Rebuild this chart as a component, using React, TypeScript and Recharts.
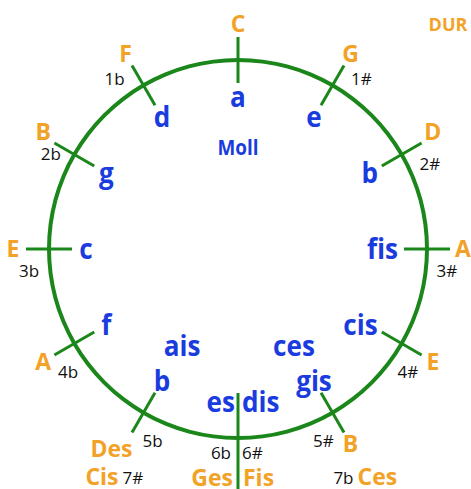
import React from "react";
import { PieChart, Pie } from "recharts";

const majorKeys = ["C", "G", "D", "A", "E", "B", "Fis", "Des", "A", "E", "B", "F"];
const minorKeys = ["a", "e", "b", "fis", "cis", "gis", "dis", "b", "f", "c", "g", "d"];
const signatures = ["", "1#", "2#", "3#", "4#", "5#", "6#", "5b", "4b", "3b", "2b", "1b"];
const enharmonicMajor = ["", "", "", "", "", "Ces", "Ges", "Cis", "", "", "", ""];
const enharmonicMinor = ["", "", "", "", "", "ces", "es", "ais", "", "", "", ""];
const enharmonicSignatures = ["", "", "", "", "", "7b", "6b", "7#", "", "", "", ""];
const modeLabels = ["DUR", "Moll"];

const keyData = majorKeys.map((k, i) => ({
  name: k,
  minor: minorKeys[i],
  sig: signatures[i],
  value: 1,
}));
const ringData = [{ name: "ring", value: 1 }];

const W = 471;
const H = 489;
const CX = 238;
const CY = 249;
const R = 189;
const GREEN = "#1B871B";
const ORANGE = "#F2A227";
const BLUE = "#1A3CDE";
const BLACK = "#111111";
const FONT = "'Open Sans', 'Noto Sans', sans-serif";
const RAD = Math.PI / 180;

const pt = (cx: number, cy: number, r: number, a: number) => ({
  x: cx + r * Math.cos(a * RAD),
  y: cy - r * Math.sin(a * RAD),
});

type TProps = {
  x: number;
  y: number;
  text: string;
  size: number;
  color: string;
  bold?: boolean;
  sx?: number;
  anchor?: "start" | "middle" | "end";
};

const T = ({ x, y, text, size, color, bold = true, sx = 1, anchor = "middle" }: TProps) => (
  <text
    transform={`translate(${x},${y}) scale(${sx},1)`}
    textAnchor={anchor}
    fontSize={size}
    fontWeight={bold ? 700 : 400}
    fill={color}
    fontFamily={FONT}
  >
    {text}
  </text>
);

const MAJ = 23;
const MIN = 29;
const MIN_SX = 0.9;
const SIG = 17;

const renderKey = (props: any) => {
  const index: number = props.index;
  const cx: number = typeof props.cx === "number" ? props.cx : CX;
  const cy: number = typeof props.cy === "number" ? props.cy : CY;
  const m: number = props.midAngle;
  const r = R;
  const bottom = index === 6;
  const t1 = pt(cx, cy, r - (bottom ? 45 : 23), m);
  const t2 = pt(cx, cy, r + (bottom ? 70 : 23), m);
  const els: React.ReactNode[] = [];
  els.push(
    <line key="tick" x1={t1.x} y1={t1.y} x2={t2.x} y2={t2.y} stroke={GREEN} strokeWidth={3} />
  );
  if (bottom) {
    const mi = pt(cx, cy, 153, m);
    els.push(<T key="emi" x={cx - 3} y={mi.y + 10} text={enharmonicMinor[index]} size={MIN} color={BLUE} sx={MIN_SX} anchor="end" />);
    els.push(<T key="mi" x={cx + 4} y={mi.y + 10} text={minorKeys[index]} size={MIN} color={BLUE} sx={MIN_SX} anchor="start" />);
    els.push(<T key="esg" x={cx - 7} y={cy + 210} text={enharmonicSignatures[index]} size={SIG} color={BLACK} bold={false} anchor="end" />);
    els.push(<T key="sg" x={cx + 4} y={cy + 210} text={signatures[index]} size={SIG} color={BLACK} bold={false} anchor="start" />);
    els.push(<T key="ema" x={cx - 5} y={cy + 237} text={enharmonicMajor[index]} size={MAJ} color={ORANGE} anchor="end" />);
    els.push(<T key="ma" x={cx + 5} y={cy + 237} text={majorKeys[index]} size={MAJ} color={ORANGE} anchor="start" />);
    return <g key={`k${index}`}>{els}</g>;
  }
  const ma = pt(cx, cy, r + 36, m);
  const maX = index === 7 ? ma.x - 14 : ma.x;
  const maY = index === 7 ? ma.y + 5 : index === 2 || index === 10 ? ma.y - 5 : ma.y;
  els.push(<T key="ma" x={maX} y={maY + 8} text={majorKeys[index]} size={MAJ} color={ORANGE} />);
  const mi = pt(cx, cy, r - 37, m);
  if (index === 3 || index === 4) {
    els.push(<T key="mi" x={mi.x + 8} y={mi.y + 10} text={minorKeys[index]} size={MIN} color={BLUE} sx={MIN_SX} anchor="end" />);
  } else {
    els.push(<T key="mi" x={mi.x} y={mi.y + 10} text={minorKeys[index]} size={MIN} color={BLUE} sx={MIN_SX} />);
  }
  if (signatures[index]) {
    const off = index < 6 ? -6 : index === 10 ? 3 : 6;
    const sg = pt(cx, cy, r + 21, m + off);
    els.push(<T key="sg" x={sg.x} y={sg.y + 6} text={signatures[index]} size={SIG} color={BLACK} bold={false} />);
  }
  if (enharmonicMinor[index]) {
    const em = pt(cx, cy, 112, m);
    els.push(<T key="emi" x={em.x} y={em.y + 10} text={enharmonicMinor[index]} size={MIN} color={BLUE} sx={MIN_SX} />);
  }
  if (enharmonicMajor[index]) {
    if (index === 7) {
      els.push(<T key="ema" x={ma.x - 7} y={ma.y + 41} text={enharmonicMajor[index]} size={MAJ} color={ORANGE} anchor="end" />);
      els.push(<T key="esg" x={ma.x - 3} y={ma.y + 40} text={enharmonicSignatures[index]} size={SIG} color={BLACK} bold={false} anchor="start" />);
    } else {
      els.push(<T key="esg" x={ma.x + 3} y={ma.y + 40} text={enharmonicSignatures[index]} size={SIG} color={BLACK} bold={false} anchor="end" />);
      els.push(<T key="ema" x={ma.x + 7} y={ma.y + 41} text={enharmonicMajor[index]} size={MAJ} color={ORANGE} anchor="start" />);
    }
  }
  return <g key={`k${index}`}>{els}</g>;
};

export default function App() {
  return (
    <div style={{ position: "absolute", left: 0, top: 0, width: W, height: H, background: "#fff" }}>
      <PieChart width={W} height={H} margin={{ top: 0, right: 0, bottom: 0, left: 0 }}>
        <Pie
          data={ringData}
          dataKey="value"
          cx={CX}
          cy={CY}
          innerRadius={R - 2}
          outerRadius={R + 2}
          startAngle={90}
          endAngle={-270}
          fill={GREEN}
          stroke="none"
          isAnimationActive={false}
        />
        <Pie
          data={keyData}
          dataKey="value"
          cx={CX}
          cy={CY}
          innerRadius={0}
          outerRadius={R}
          startAngle={105}
          endAngle={-255}
          fill="transparent"
          stroke="none"
          labelLine={false}
          label={renderKey}
          isAnimationActive={false}
        />
        <text x={448} y={31} textAnchor="middle" fontSize={18} fontWeight={700} fill={ORANGE} fontFamily={FONT}>
          {modeLabels[0]}
        </text>
        <g transform={`translate(${CX},${CY - 94}) scale(0.9,1)`}>
          <text textAnchor="middle" fontSize={21} fontWeight={700} fill={BLUE} fontFamily={FONT}>
            {modeLabels[1]}
          </text>
        </g>
      </PieChart>
    </div>
  );
}
